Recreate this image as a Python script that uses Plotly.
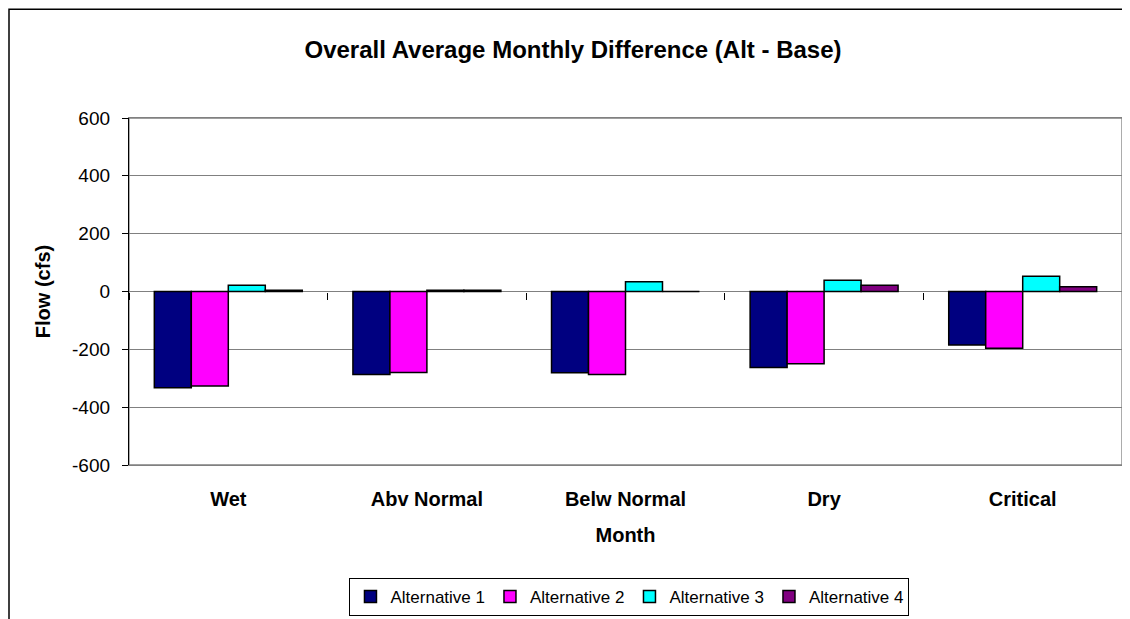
import plotly.graph_objects as go

# data
months = ["Wet", "Abv Normal", "Belw Normal", "Dry", "Critical"]
alt1 = [-333, -287, -281, -263, -185]
alt2 = [-327, -280, -287, -250, -196]
alt3 = [22, 4, 34, 39, 53]
alt4 = [4, 4, 0, 22, 16]
series_names = ["Alternative 1", "Alternative 2", "Alternative 3", "Alternative 4"]
series_colors = ["#000080", "#FF00FF", "#00FFFF", "#800080"]
y_ticks = [-600, -400, -200, 0, 200, 400, 600]

FONT = "Liberation Sans, Arial, sans-serif"

fig = go.Figure()
for name, vals, col in zip(series_names, [alt1, alt2, alt3, alt4], series_colors):
    fig.add_trace(go.Bar(
        x=months, y=vals, name=name,
        marker=dict(color=col, line=dict(color="black", width=1.5)),
    ))

# invisible helper so the category axis at y=0 gets its boundary ticks
fig.add_trace(go.Scatter(
    x=months, y=[0] * len(months), xaxis="x2", mode="lines",
    line=dict(width=0), showlegend=False, hoverinfo="skip",
))

# the page body adds an 8px offset, margins compensate for it
fig.update_layout(
    width=1130, height=619,
    margin=dict(l=121, r=16, t=110, b=161),
    paper_bgcolor="white", plot_bgcolor="white",
    font=dict(family=FONT, size=17, color="black"),
    barmode="group", bargap=0.255, bargroupgap=0,
    title=dict(
        text="<b>Overall Average Monthly Difference (Alt - Base)</b>",
        x=0.5, xanchor="center", y=1 - 42 / 619, yanchor="middle",
        font=dict(family=FONT, size=24, color="black"),
    ),
    xaxis=dict(
        type="category", categoryarray=months, range=[-0.5, 4.5],
        showgrid=False, showline=True, linecolor="#808080", linewidth=1.3,
        mirror=True, ticks="", tickfont=dict(family=FONT, size=20, color="black"),
        ticklabelstandoff=16,
        tickvals=months, ticktext=["<b>%s</b>" % m for m in months],
        title=dict(text="<b>Month</b>", standoff=18,
                   font=dict(family=FONT, size=20, color="black")),
        zeroline=False,
    ),
    xaxis2=dict(
        type="category", categoryarray=months, range=[-0.5, 4.5],
        overlaying="x", anchor="free", position=0.5, side="bottom",
        showgrid=False, showline=False, showticklabels=False,
        ticks="outside", tickson="boundaries", ticklen=7, tickcolor="black",
        tickwidth=1,
    ),
    yaxis=dict(
        range=[-600, 600], tickvals=y_ticks, ticktext=[str(v) for v in y_ticks],
        showgrid=True, gridcolor="#808080", gridwidth=1,
        zeroline=True, zerolinecolor="#808080", zerolinewidth=1.3,
        showline=True, linecolor="black", linewidth=1.3,
        ticks="outside", ticklen=6, tickcolor="black",
        ticklabelstandoff=8,
        tickfont=dict(family=FONT, size=19, color="black"),
        title=dict(text="<b>Flow (cfs)</b>", standoff=16,
                   font=dict(family=FONT, size=20, color="black")),
    ),
    legend=dict(
        orientation="h", x=0.504, xanchor="center", y=-0.322, yanchor="top",
        bordercolor="black", borderwidth=1, bgcolor="white",
        font=dict(family=FONT, size=17, color="black"),
        itemwidth=30, tracegroupgap=0,
    ),
    shapes=[
        # outer chart border (runs off the right and bottom edges)
        dict(type="rect", xref="paper", yref="paper",
             x0=(9 - 129) / 993, x1=1.2, y0=-0.8, y1=(466 - 9) / 348,
             line=dict(color="black", width=1.5), layer="below"),
        # plot area frame (right side gray)
        dict(type="rect", xref="paper", yref="paper",
             x0=0, x1=1, y0=0, y1=1,
             line=dict(color="#808080", width=1.3), layer="below"),
    ],
)

fig.write_html("out.html")
